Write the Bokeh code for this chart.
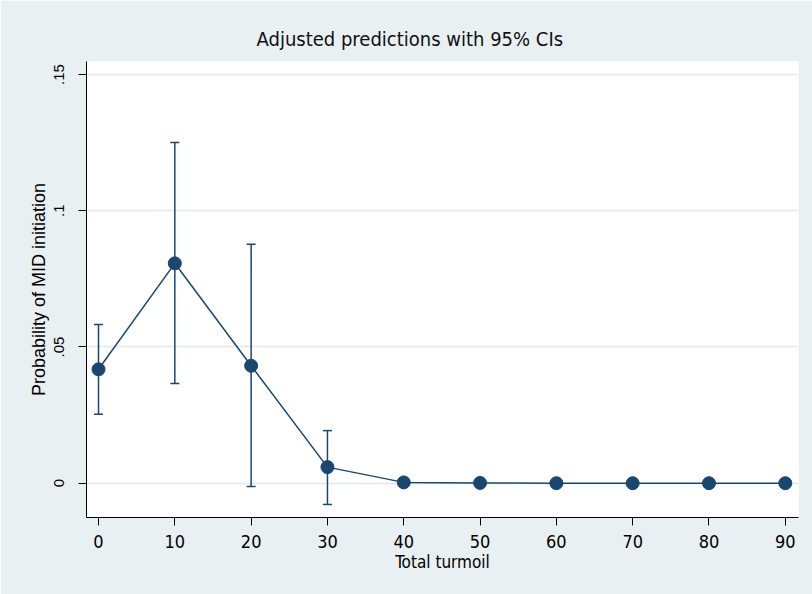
from bokeh.plotting import figure
from bokeh.models import Range1d, FixedTicker, Whisker, TeeHead, ColumnDataSource
from bokeh.embed import file_html
from bokeh.resources import INLINE

# ---- data ----
turmoil = [0, 10, 20, 30, 40, 50, 60, 70, 80, 90]
prob = [0.0418, 0.0807, 0.0431, 0.0059, 0.0003, 0.0001, 0.0, 0.0, 0.0, 0.0]
ci_low = [0.0253, 0.0366, -0.0012, -0.0078, -0.0003, 0.0, 0.0, 0.0, 0.0, 0.0]
ci_high = [0.0582, 0.1250, 0.0877, 0.0193, 0.0009, 0.0002, 0.0, 0.0, 0.0, 0.0]
x_ticks = [0, 10, 20, 30, 40, 50, 60, 70, 80, 90]
y_ticks = [0, 0.05, 0.1, 0.15]
y_tick_labels = ["0", ".05", ".1", ".15"]
title_text = "Adjusted predictions with 95% CIs"
x_title = "Total turmoil"
y_title = "Probability of MID initiation"

NAVY = "#1a476f"
BG = "#e8f0f1"
GRID = "#dde9eb"
COND = "DejaVu Sans Condensed"
REG = "Liberation Sans"

src = ColumnDataSource(dict(x=turmoil, y=prob, lo=ci_low, hi=ci_high))

p = figure(
    width=812, height=594,
    frame_width=712, frame_height=456,
    min_border_left=86, min_border_right=14, min_border_top=61, min_border_bottom=77,
    x_range=Range1d(-1.574, 91.73), y_range=Range1d(-0.01259, 0.15477),
    output_backend="svg", toolbar_location=None,
    background_fill_color="white", border_fill_color=BG,
    title=title_text,
)
p.outline_line_color = None

p.title.text_font = COND
p.title.text_font_size = "20px"
p.title.text_font_style = "normal"
p.title.text_color = "#111111"
p.title.align = "left"
p.title.offset = 170
p.title.standoff = 22

# axes
for ax in (p.xaxis[0], p.yaxis[0]):
    ax.axis_line_color = "black"
    ax.axis_line_width = 1
    ax.major_tick_line_color = "black"
    ax.major_tick_in = 0
    ax.major_tick_out = 8
    ax.minor_tick_line_color = None
    ax.major_label_text_color = "black"
    ax.axis_label_text_color = "black"
    ax.axis_label_text_font_style = "normal"

p.xaxis.ticker = FixedTicker(ticks=x_ticks)
p.xaxis.axis_label = x_title
p.xaxis.major_label_text_font = COND
p.xaxis.major_label_text_font_size = "18px"
p.xaxis.axis_label_text_font = COND
p.xaxis.axis_label_text_font_size = "17px"
p.xaxis.major_label_standoff = 9
p.xaxis.axis_label_standoff = 1

p.yaxis.ticker = FixedTicker(ticks=y_ticks)
p.yaxis.major_label_overrides = {t: l for t, l in zip(y_ticks, y_tick_labels)}
p.yaxis.major_label_orientation = "vertical"
p.yaxis.axis_label = y_title
p.yaxis.major_label_text_font = REG
p.yaxis.major_label_text_font_size = "15px"
p.yaxis.axis_label_text_font = REG
p.yaxis.axis_label_text_font_size = "18px"
p.yaxis.major_label_standoff = 14
p.yaxis.axis_label_standoff = 3

p.xgrid.grid_line_color = None
p.ygrid.grid_line_color = GRID
p.ygrid.grid_line_width = 1.5

# error bars
w = Whisker(source=src, base="x", lower="lo", upper="hi", dimension="height",
            line_color=NAVY, line_width=1.5,
            upper_head=TeeHead(size=9, line_color=NAVY, line_width=1.5),
            lower_head=TeeHead(size=9, line_color=NAVY, line_width=1.5),
            level="glyph")
p.add_layout(w)

p.line("x", "y", source=src, line_color=NAVY, line_width=1.5)
p.scatter("x", "y", source=src, size=13, fill_color=NAVY, line_color=NAVY)

open("out.html", "w").write(file_html(p, INLINE))
